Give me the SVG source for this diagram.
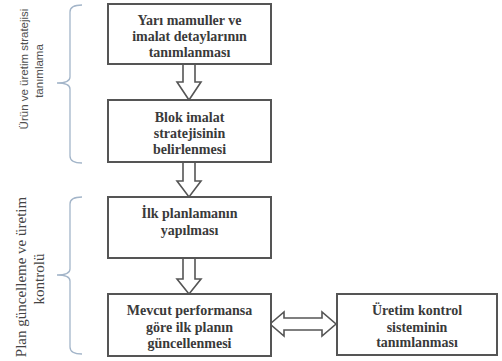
<svg xmlns="http://www.w3.org/2000/svg" width="502" height="361" viewBox="0 0 502 361">
<style>
.box{fill:#fff;stroke:#555;stroke-width:2}
.arr{fill:#fff;stroke:#555;stroke-width:1.6;stroke-linejoin:miter}
.t{font-family:"Liberation Serif",serif;font-weight:bold;font-size:14px;fill:#3a3a3a;text-anchor:middle}
.brace{fill:none;stroke:#a3b5c9;stroke-width:1.3}
.l1{font-family:"Liberation Sans",sans-serif;font-size:11.5px;fill:#505050;text-anchor:middle}
.l2{font-family:"Liberation Serif",serif;font-size:15px;fill:#444;text-anchor:middle}
</style>
<rect width="502" height="361" fill="#fff"/>
<g id="connectors">
<path class="arr" d="M183,64 L195,64 L195,82 L201,82 L189,100 L177,82 L183,82 Z"/>
<path class="arr" d="M183,162 L195,162 L195,181 L201,181 L189,197 L177,181 L183,181 Z"/>
<path class="arr" d="M183,258 L195,258 L195,279 L201,279 L189,294 L177,279 L183,279 Z"/>
<path class="arr" d="M270,324 L284,312 L284,318 L322,318 L322,312 L336,324 L322,336 L322,330 L284,330 L284,336 Z"/>
</g>
<g id="brace1">
<path class="brace" d="M82,5 Q70,5 70,12 L70,77 Q70,83 57,83 Q70,83 70,89 L70,156 Q70,163 82,163"/>
<text class="l1" transform="translate(28,69) rotate(-90)">Ürün ve üretim stratejisi</text>
<text class="l1" transform="translate(43,71) rotate(-90)">tanımlama</text>
</g>
<g id="brace2">
<path class="brace" d="M82,197 Q70,197 70,204 L70,269 Q70,275 57,275 Q70,275 70,281 L70,347 Q70,354 82,354"/>
<text class="l2" transform="translate(26,277) rotate(-90)">Plan güncelleme ve üretim</text>
<text class="l2" transform="translate(44,279) rotate(-90)">kontrolü</text>
</g>
<g id="n1">
<rect class="box" x="108" y="4" width="163" height="60"/>
<text class="t" x="189.5" y="25">Yarı mamuller ve</text>
<text class="t" x="189.5" y="41">imalat detaylarının</text>
<text class="t" x="189.5" y="57">tanımlanması</text>
</g>
<g id="n2">
<rect class="box" x="108" y="100" width="163" height="62"/>
<text class="t" x="189.5" y="122">Blok imalat</text>
<text class="t" x="189.5" y="138">stratejisinin</text>
<text class="t" x="189.5" y="154">belirlenmesi</text>
</g>
<g id="n3">
<rect class="box" x="108" y="197" width="163" height="61"/>
<text class="t" x="189.5" y="218">İlk planlamanın</text>
<text class="t" x="189.5" y="235">yapılması</text>
</g>
<g id="n4">
<rect class="box" x="108" y="294" width="163" height="62"/>
<text class="t" x="189.5" y="315">Mevcut performansa</text>
<text class="t" x="189.5" y="332">göre ilk planın</text>
<text class="t" x="189.5" y="348">güncellenmesi</text>
</g>
<g id="n5">
<rect class="box" x="337" y="294" width="160" height="61"/>
<text class="t" x="417" y="315">Üretim kontrol</text>
<text class="t" x="417" y="332">sisteminin</text>
<text class="t" x="417" y="347">tanımlanması</text>
</g>
</svg>
